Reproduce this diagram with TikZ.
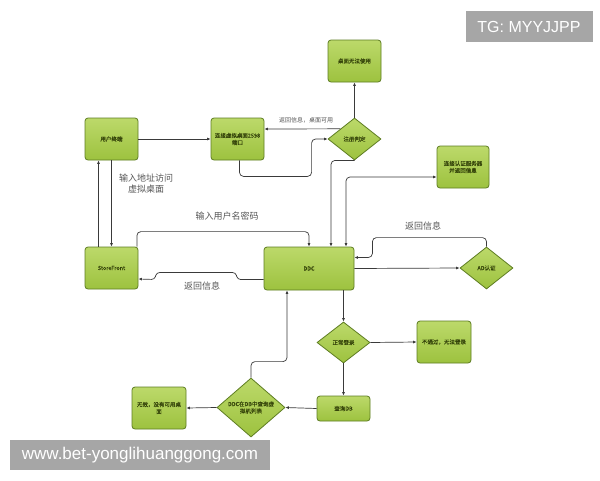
\documentclass[tikz,border=0pt]{standalone}
\usepackage{fontspec}
\setmainfont{Liberation Sans}
\newfontfamily\cjk{Noto Sans CJK SC}
\newfontfamily\cjkb[FakeBold=0.4]{Noto Sans CJK SC}
\usetikzlibrary{shapes.geometric,arrows.meta,calc}
\definecolor{gtop}{HTML}{BCD96A}
\definecolor{gbot}{HTML}{9DC23F}
\definecolor{gborder}{HTML}{5E7D22}
\definecolor{gtext}{HTML}{35440A}
\definecolor{lcol}{HTML}{3A3A3A}
\definecolor{labcol}{HTML}{555555}
\definecolor{wm}{HTML}{A6A6A6}
\tikzset{
  gbox/.style={draw=gborder, line width=0.8pt, rounded corners=3pt, top color=gtop, bottom color=gbot,
    text=gtext, align=center, inner sep=1pt, font=\cjkb\fontsize{5.5}{7}\selectfont},
  gdia/.style={diamond, draw=gborder, line width=0.8pt, top color=gtop, bottom color=gbot,
    text=gtext, align=center, inner sep=0pt, font=\cjkb\fontsize{5.5}{7}\selectfont},
  conn/.style={draw=lcol, line width=0.7pt, rounded corners=4pt, -{Latex[length=3.5pt,width=3pt]}},
  conn2/.style={draw=lcol, line width=0.7pt, rounded corners=4pt, {Latex[length=3.5pt,width=3pt]}-{Latex[length=3.5pt,width=3pt]}},
  biglab/.style={text=labcol, align=center, font=\cjk\fontsize{9}{11}\selectfont},
  smalllab/.style={text=labcol, font=\cjk\fontsize{6}{7}\selectfont},
  wmark/.style={fill=wm, text=white, inner sep=0pt}
}
\begin{document}
\begin{tikzpicture}[x=1pt,y=-1pt]
\useasboundingbox[fill=white] (0,0) rectangle (600,480);
% boxes
\node[gbox, minimum width=53pt, minimum height=42pt] (zm) at (354.5,61) {桌面无法使用};
\node[gbox, minimum width=53pt, minimum height=42pt] (yh) at (111.5,139) {用户终端};
\node[gbox, minimum width=53pt, minimum height=42pt] (lj) at (237.5,139) {连接虚拟桌面2598\\端口};
\node[gdia, minimum width=53pt, minimum height=42pt] (zc) at (354.5,139) {注册判定};
\node[gbox, minimum width=52pt, minimum height=42pt] (rz) at (463,167) {连接认证服务器\\并返回信息};
\node[gbox, minimum width=53pt, minimum height=42pt] (sf) at (111.5,268) {StoreFront};
\node[gbox, minimum width=90pt, minimum height=43pt] (ddc) at (309,268.5) {DDC};
\node[gdia, minimum width=53pt, minimum height=42pt] (ad) at (486.5,268) {AD认证};
\node[gdia, minimum width=53pt, minimum height=41pt] (zd) at (343.5,342.5) {正常登录};
\node[gbox, minimum width=54pt, minimum height=42pt] (bt) at (444,342) {不通过，无法登录};
\node[gbox, minimum width=53pt, minimum height=25pt] (cx) at (343.5,408.5) {查询DB};
\node[gdia, minimum width=68pt, minimum height=59pt] (dq) at (251,407.5) {DDC在DB中查询虚\\拟机列表};
\node[gbox, minimum width=54pt, minimum height=42pt] (wx) at (159,408) {无效，没有可用桌\\面};
% connectors
\draw[conn] (yh.east) -- (lj.west);
\draw[conn] ([xshift=2pt]lj.south) -- ++(0,16) -| ([xshift=-16pt]zc.west) -- (zc.west);
\draw[conn] ($(zc.west)!0.476!(zc.north)$) -- ([yshift=10pt]lj.east);
\node[smalllab] (l1) at (306,120) {返回信息，桌面可用};
\draw[conn] (zc.north) -- (zm.south);
\draw[conn] (zc.south) -| ($(ddc.north)+(22,0)$);
\draw[conn2] ($(ddc.north)+(37,0)$) |- ([yshift=-10pt]rz.west);
\draw[conn] (ddc.east) -- (ad.west);
\draw[conn] (ad.north) -- ++(0,-9) -| ($(ddc.east)+(18,-11)$) -- ([yshift=11pt]ddc.east);
\node[biglab] (l2) at (423,226) {返回信息};
\draw[conn] ([xshift=-13pt]sf.north) -- ([xshift=-13pt]yh.south);
\draw[conn] (yh.south) -- (sf.north);
\node[biglab] (l3) at (146,184) {输入地址访问\\虚拟桌面};
\draw[conn] ([xshift=-1.5pt]sf.north east) -- ++(0,-15) -| (ddc.north);
\node[biglab] (l4) at (227,216) {输入用户名密码};
\draw[conn, rounded corners=3pt] ([yshift=-11pt]ddc.west) -- ++(-26,0) -- ++(-2,-7) -- ++(-79,0) -- ++(-2,7) -- ([yshift=-11pt]sf.east);
\node[biglab] (l5) at (202,286) {返回信息};
\draw[conn] (ddc.south -| zd.north) -- (zd.north);
\draw[conn] (zd.east) -- (bt.west);
\draw[conn] (zd.south) -- (cx.north);
\draw[conn] (cx.west) -- (dq.east);
\draw[conn] (dq.west) -- (wx.east);
\draw[conn] (dq.north) -- ++(0,-16) -| ($(ddc.south)+(-22,0)$);
% watermarks
\node[wmark, minimum width=127pt, minimum height=31pt, font=\fontsize{16}{16}\selectfont] (tg) at (529,26.5) {TG: MYYJJPP};
\node[wmark, minimum width=260pt, minimum height=30pt, font=\fontsize{17}{17}\selectfont] (www) at (140,455) {www.bet-yonglihuanggong.com};
\end{tikzpicture}
\end{document}
